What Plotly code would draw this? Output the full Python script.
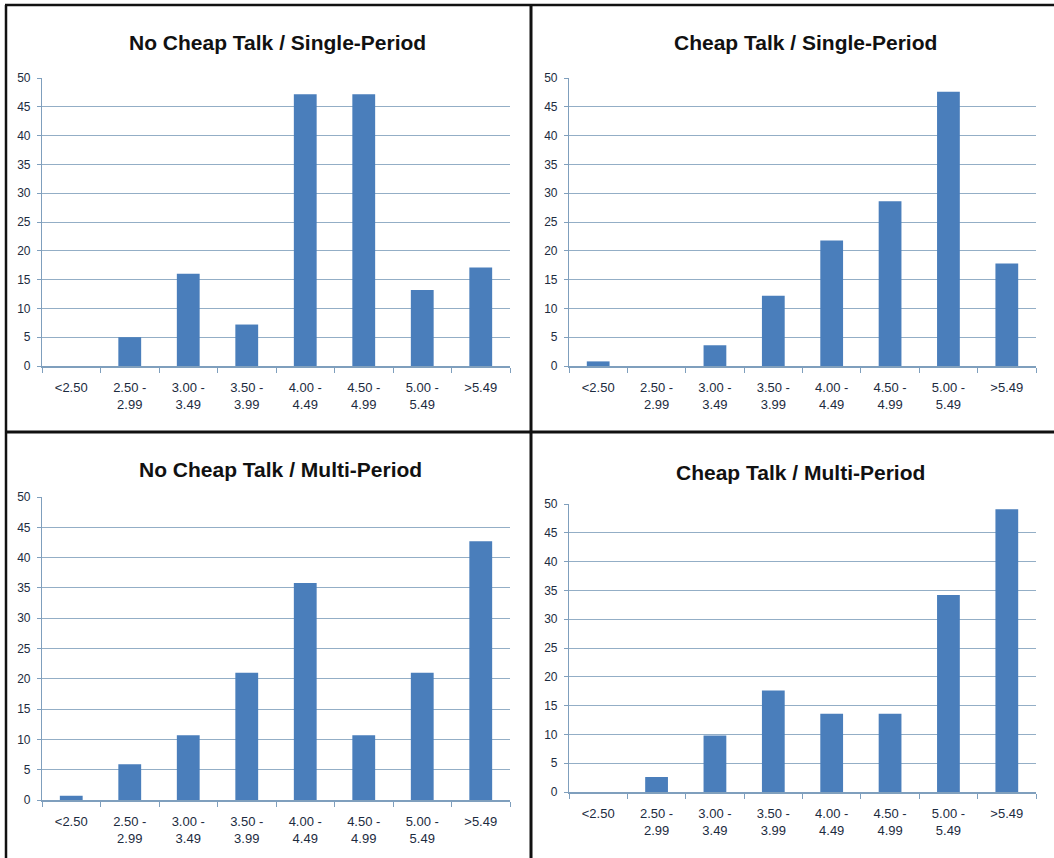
import plotly.graph_objects as go

categories = ["<2.50", "2.50 -<br>2.99", "3.00 -<br>3.49", "3.50 -<br>3.99",
              "4.00 -<br>4.49", "4.50 -<br>4.99", "5.00 -<br>5.49", ">5.49"]
cat_keys = ["c1", "c2", "c3", "c4", "c5", "c6", "c7", "c8"]

no_cheap_single = [0, 5, 16, 7.2, 47.2, 47.2, 13.2, 17.1]
cheap_single = [0.8, 0, 3.6, 12.2, 21.8, 28.6, 47.6, 17.8]
no_cheap_multi = [0.7, 5.9, 10.7, 21.0, 35.8, 10.7, 21.0, 42.7]
cheap_multi = [0, 2.6, 9.8, 17.6, 13.6, 13.6, 34.2, 49.1]

titles = ["No Cheap Talk / Single-Period", "Cheap Talk / Single-Period",
          "No Cheap Talk / Multi-Period", "Cheap Talk / Multi-Period"]
y_ticks = [0, 5, 10, 15, 20, 25, 30, 35, 40, 45, 50]

W, H = 1054, 858
BAR = "#4a7ebb"
GRID = "#93aec6"
AXIS = "#7f9fbd"
TXT = "#1c2b40"

# panels: (x0, x1, y_zero, y_fifty, title_cx, title_cy) in pixels
panels = [
    (42, 510, 366, 78, 277, 42),
    (569, 1036, 366, 78, 805, 42),
    (42, 510, 800, 497, 280, 469),
    (569, 1036, 792, 504, 800, 472),
]
series = [no_cheap_single, cheap_single, no_cheap_multi, cheap_multi]

fig = go.Figure()
layout = dict(width=W, height=H, margin=dict(l=0, r=0, t=0, b=0, autoexpand=False),
              paper_bgcolor="white", plot_bgcolor="white", showlegend=False)
annotations = []
for i, (p, vals, title) in enumerate(zip(panels, series, titles)):
    x0, x1, yz, yf, tcx, tcy = p
    sfx = "" if i == 0 else str(i + 1)
    fig.add_trace(go.Bar(x=cat_keys, y=vals, marker=dict(color=BAR, line=dict(width=0)),
                         xaxis="x" + sfx, yaxis="y" + sfx, width=0.39))
    layout["xaxis" + sfx] = dict(
        domain=[x0 / W, x1 / W], anchor="y" + sfx, automargin=False,
        tickmode="array", tickvals=cat_keys, ticktext=categories,
        tickson="boundaries", ticks="outside", ticklen=5, tickcolor=AXIS,
        showline=True, linecolor=AXIS, linewidth=1.5, showgrid=False,
        tickfont=dict(family="Liberation Sans", size=13, color=TXT),
        ticklabelstandoff=9,
        tickangle=0, fixedrange=True)
    layout["yaxis" + sfx] = dict(
        domain=[1 - yz / H, 1 - yf / H], anchor="x" + sfx, automargin=False,
        range=[0, 50], tickmode="array", tickvals=y_ticks,
        ticks="outside", ticklen=4, tickcolor=AXIS,
        showline=True, linecolor=AXIS, linewidth=1.2,
        showgrid=True, gridcolor=GRID, gridwidth=1.3, zeroline=False,
        tickfont=dict(family="Liberation Sans", size=12, color=TXT),
        ticklabelstandoff=4,
        fixedrange=True)
    annotations.append(dict(text="<b>" + title + "</b>", x=tcx / W, y=1 - tcy / H,
                            xref="paper", yref="paper", xanchor="center", yanchor="middle",
                            showarrow=False,
                            font=dict(family="Liberation Sans", size=21, color="#111111")))

layout["annotations"] = annotations
line = dict(color="#111111", width=2.5)
layout["shapes"] = [
    dict(type="line", xref="paper", yref="paper", x0=5 / W, x1=1, y0=1 - 5 / H, y1=1 - 5 / H, line=line),
    dict(type="line", xref="paper", yref="paper", x0=6 / W, x1=6 / W, y0=0, y1=1 - 5 / H, line=line),
    dict(type="line", xref="paper", yref="paper", x0=531 / W, x1=531 / W, y0=0, y1=1 - 5 / H, line=dict(color="#111111", width=3)),
    dict(type="line", xref="paper", yref="paper", x0=6 / W, x1=1, y0=1 - 432 / H, y1=1 - 432 / H, line=dict(color="#111111", width=3)),
]
fig.update_layout(**layout)
fig.write_html("out.html", config={"displayModeBar": False},
               post_script="document.body.style.margin='0';")
